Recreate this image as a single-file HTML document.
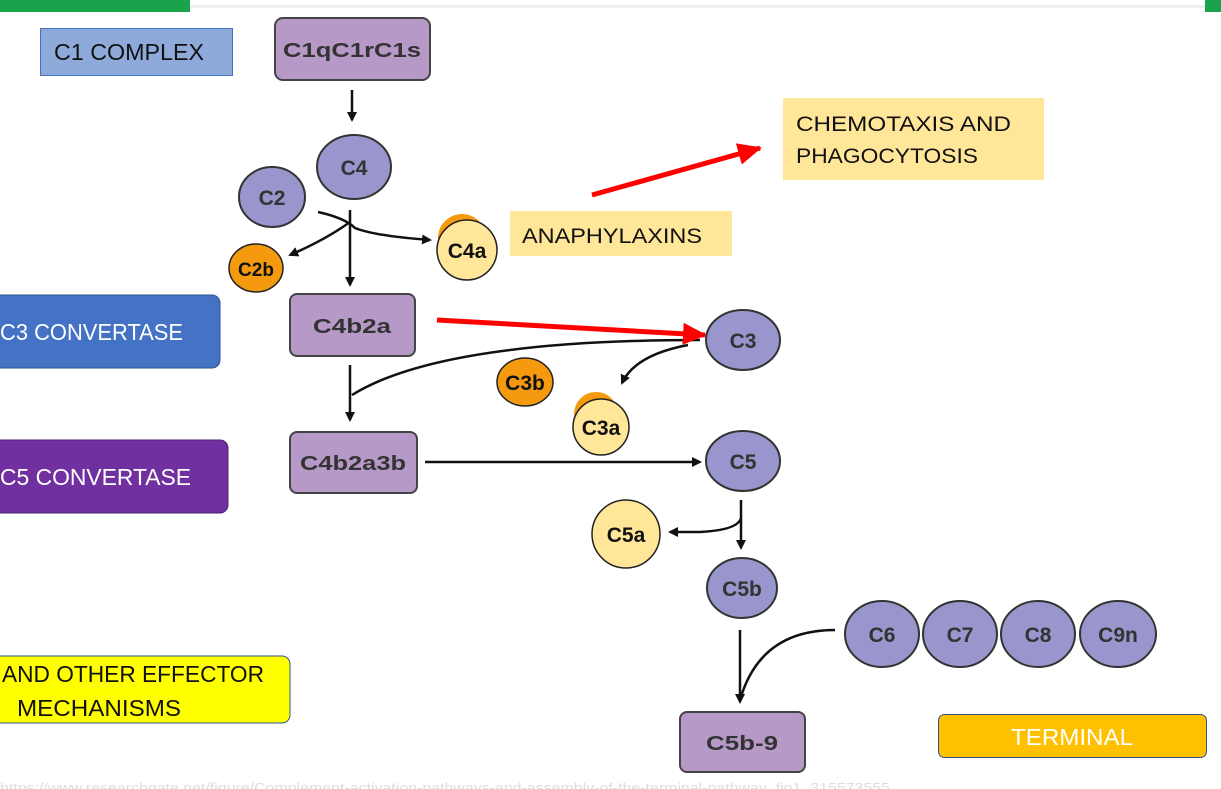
<!DOCTYPE html>
<html><head><meta charset="utf-8"><style>
html,body{margin:0;padding:0;background:#fff;}
svg{display:block;}
.lb{font-family:"Liberation Sans",Arial,sans-serif;font-weight:bold;fill:#333;}
.cal{font-family:"Liberation Sans",sans-serif;}
</style></head><body>
<svg width="1221" height="789" viewBox="0 0 1221 789" xmlns="http://www.w3.org/2000/svg">
<defs>
<marker id="ah" markerWidth="10" markerHeight="10" refX="8" refY="5" orient="auto" markerUnits="userSpaceOnUse"><path d="M0,0 L10,5 L0,10 Z" fill="#111"/></marker>
<marker id="rh" markerWidth="26" markerHeight="22" refX="22" refY="11" orient="auto" markerUnits="userSpaceOnUse"><path d="M0,0 L24,11 L0,22 Z" fill="#f00"/></marker>
</defs>
<rect x="0" y="0" width="190" height="12" fill="#1aa34a"/>
<rect x="190" y="5" width="1015" height="3" fill="#eee"/>
<rect x="1205" y="0" width="16" height="12" fill="#1aa34a"/>

<rect x="40.5" y="28.5" width="192" height="47" fill="#8eaadb" stroke="#4472c4"/>
<text x="54" y="60" class="cal" font-size="23" fill="#111" textLength="150" lengthAdjust="spacingAndGlyphs">C1 COMPLEX</text>
<rect x="-10" y="295" width="230" height="73" rx="8" fill="#4472c4" stroke="#2f528f"/>
<text x="0" y="340" class="cal" font-size="23" fill="#fff" textLength="183" lengthAdjust="spacingAndGlyphs">C3 CONVERTASE</text>
<rect x="-10" y="440" width="238" height="73" rx="8" fill="#7030a0" stroke="#4b2070"/>
<text x="0" y="485" class="cal" font-size="23" fill="#fff" textLength="191" lengthAdjust="spacingAndGlyphs">C5 CONVERTASE</text>
<rect x="-10" y="656" width="300" height="67" rx="8" fill="#ffff00" stroke="#2f528f"/>
<text x="2" y="682" class="cal" font-size="23" fill="#111" textLength="262" lengthAdjust="spacingAndGlyphs">AND OTHER EFFECTOR</text>
<text x="17" y="716" class="cal" font-size="23" fill="#111" textLength="164" lengthAdjust="spacingAndGlyphs">MECHANISMS</text>

<rect x="510" y="211" width="222" height="45" fill="#ffe699"/>
<text x="522" y="243" class="cal" font-size="21" fill="#111" textLength="180" lengthAdjust="spacingAndGlyphs">ANAPHYLAXINS</text>
<rect x="783" y="98" width="261" height="82" fill="#ffe699"/>
<text x="796" y="131" class="cal" font-size="21" fill="#111" textLength="215" lengthAdjust="spacingAndGlyphs">CHEMOTAXIS AND</text>
<text x="796" y="163" class="cal" font-size="21" fill="#111" textLength="182" lengthAdjust="spacingAndGlyphs">PHAGOCYTOSIS</text>
<rect x="938.5" y="714.5" width="268" height="43" rx="6" fill="#ffc000" stroke="#2f528f"/>
<text x="1072" y="745" class="cal" font-size="23" fill="#fff" text-anchor="middle" textLength="122" lengthAdjust="spacingAndGlyphs">TERMINAL</text>

<g fill="#b799c8" stroke="#444" stroke-width="2">
<rect x="275" y="18" width="155" height="62" rx="8"/>
<rect x="290" y="294" width="125" height="62" rx="7"/>
<rect x="290" y="432" width="127" height="61" rx="7"/>
<rect x="680" y="712" width="125" height="60" rx="7"/>
</g>
<text x="352" y="57" class="lb" font-size="20" text-anchor="middle" textLength="138" lengthAdjust="spacingAndGlyphs">C1qC1rC1s</text>
<text x="352" y="333" class="lb" font-size="20" text-anchor="middle" textLength="78" lengthAdjust="spacingAndGlyphs">C4b2a</text>
<text x="353" y="470" class="lb" font-size="20" text-anchor="middle" textLength="106" lengthAdjust="spacingAndGlyphs">C4b2a3b</text>
<text x="742" y="750" class="lb" font-size="20" text-anchor="middle" textLength="72" lengthAdjust="spacingAndGlyphs">C5b-9</text>

<g stroke="#111" stroke-width="2.5" fill="none">
<line x1="352" y1="90" x2="352" y2="120" marker-end="url(#ah)"/>
<line x1="350" y1="210" x2="350" y2="285" marker-end="url(#ah)"/>
<path d="M318,212 Q345,218 355,228 Q375,236 430,240" marker-end="url(#ah)"/>
<path d="M350,222 Q325,240 290,255" marker-end="url(#ah)"/>
<path d="M700,340 Q440,340 352,395"/>
<line x1="350" y1="365" x2="350" y2="420" marker-end="url(#ah)"/>
<path d="M688,345 Q635,355 622,383" marker-end="url(#ah)"/>
<line x1="425" y1="462" x2="700" y2="462" marker-end="url(#ah)"/>
<line x1="741" y1="500" x2="741" y2="548" marker-end="url(#ah)"/>
<path d="M741,518 Q738,530 700,532 L670,532" marker-end="url(#ah)"/>
<path d="M835,630 Q760,630 740,700" />
<line x1="740" y1="630" x2="740" y2="702" marker-end="url(#ah)"/>
</g>
<line x1="592" y1="195" x2="760" y2="148" stroke="#f00" stroke-width="5" marker-end="url(#rh)"/>
<line x1="437" y1="320" x2="705" y2="335" stroke="#f00" stroke-width="5" marker-end="url(#rh)"/>

<g fill="#9896cc" stroke="#333" stroke-width="2">
<ellipse cx="354" cy="167" rx="37" ry="32"/>
<ellipse cx="272" cy="197" rx="33" ry="30"/>
<ellipse cx="743" cy="340" rx="37" ry="30"/>
<ellipse cx="743" cy="461" rx="37" ry="30"/>
<ellipse cx="742" cy="588" rx="35" ry="30"/>
<ellipse cx="882" cy="634" rx="37" ry="33"/>
<ellipse cx="960" cy="634" rx="37" ry="33"/>
<ellipse cx="1038" cy="634" rx="37" ry="33"/>
<ellipse cx="1118" cy="634" rx="38" ry="33"/>
</g>
<g class="lb" font-size="21" text-anchor="middle">
<text x="354" y="175">C4</text>
<text x="272" y="205">C2</text>
<text x="743" y="348">C3</text>
<text x="743" y="469">C5</text>
<text x="742" y="596">C5b</text>
<text x="882" y="642">C6</text>
<text x="960" y="642">C7</text>
<text x="1038" y="642">C8</text>
<text x="1118" y="642">C9n</text>
</g>

<g stroke="#222" stroke-width="1.5">
<ellipse cx="256" cy="268" rx="27" ry="24" fill="#f59a0f"/>
<ellipse cx="525" cy="382" rx="28" ry="24" fill="#f59a0f"/>
<circle cx="462" cy="238" r="24" fill="#f59a0f" stroke="none"/>
<circle cx="467" cy="250" r="30" fill="#ffe699"/>
<circle cx="596" cy="414" r="22" fill="#f59a0f" stroke="none"/>
<circle cx="601" cy="427" r="28" fill="#ffe699"/>
<circle cx="626" cy="534" r="34" fill="#ffe699"/>
</g>
<g class="cal" font-weight="bold" fill="#111" font-size="21" text-anchor="middle">
<text x="256" y="276" font-size="19">C2b</text>
<text x="525" y="390">C3b</text>
<text x="467" y="258">C4a</text>
<text x="601" y="435">C3a</text>
<text x="626" y="542">C5a</text>
</g>
<text x="0" y="792" class="cal" font-size="13" fill="#ddd" textLength="890" lengthAdjust="spacingAndGlyphs">https://www.researchgate.net/figure/Complement-activation-pathways-and-assembly-of-the-terminal-pathway_fig1_315573555</text>
</svg>
</body></html>
